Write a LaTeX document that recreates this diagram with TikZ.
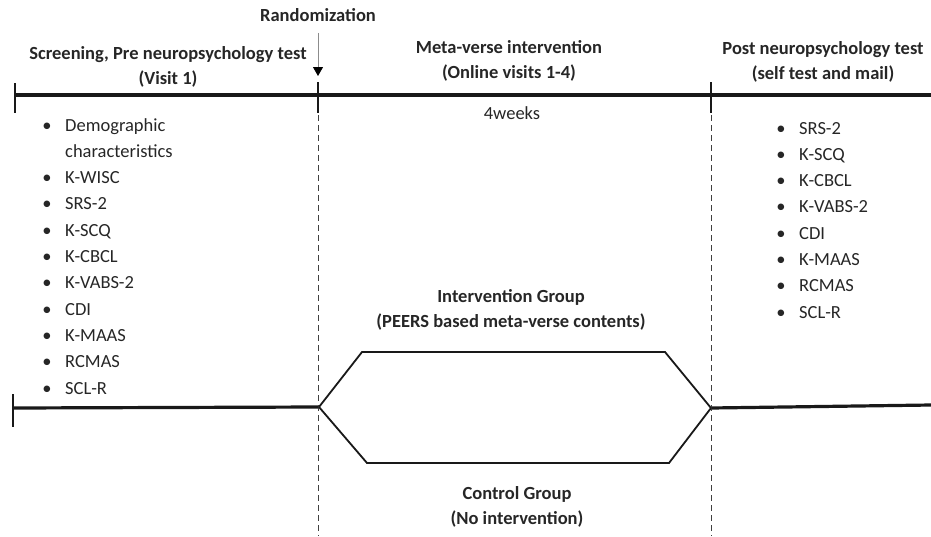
\documentclass[tikz,border=0pt]{standalone}
\usepackage{fontspec}
\setmainfont{Carlito}
\usetikzlibrary{arrows.meta,positioning}

\tikzset{
  lbl/.style={font=\fontsize{18.5}{24.5}\selectfont\bfseries, align=center, inner sep=0pt, text=black!85},
  itm/.style={font=\fontsize{18.5}{26}\selectfont, anchor=base west, inner sep=0pt, text=black!85},
  dot/.style={font=\fontsize{18.5}{26}\selectfont, anchor=base, inner sep=0pt, text=black!85},
  axis/.style={line width=3.2pt, black!90},
  tick/.style={line width=1.4pt, black!90},
  arm/.style={line width=1.8pt, black!90, line join=miter},
  guide/.style={line width=1pt, dash pattern=on 6pt off 4pt, black!75},
}

\begin{document}
\begin{tikzpicture}[x=1pt,y=-1pt]
  \useasboundingbox (0,0) rectangle (931,536);
  % points on the time lines
  \coordinate (t0) at (15,95);
  \coordinate (t1) at (318,95);
  \coordinate (t2) at (711,95);
  \coordinate (t3) at (931,95);
  \coordinate (b0) at (13,408);
  \coordinate (split) at (319,407);
  \coordinate (merge) at (711,408);
  \coordinate (b3) at (931,405);
  \coordinate (ul) at (362,352);
  \coordinate (ur) at (665,352);
  \coordinate (ll) at (367,463);
  \coordinate (lr) at (669,463);
  % time lines
  \draw[axis] (t0) -- (t3);
  \draw[axis] (b0) -- (split);
  \draw[axis] (merge) -- (b3);
  % ticks
  \draw[tick] ([yshift=12pt]t0) -- ([yshift=-18pt]t0);
  \draw[tick] ([yshift=13pt]t1) -- ([yshift=-18pt]t1);
  \draw[tick] ([yshift=13pt]t2) -- ([yshift=-18pt]t2);
  \draw[tick] ([yshift=14pt]b0) -- ([yshift=-19pt]b0);
  % guides
  \draw[guide] ([yshift=-20pt]t1) -- (t1 |- 0,536);
  \draw[guide] ([yshift=-20pt]t2) -- (t2 |- 0,536);
  % groups
  \draw[arm] (split) -- (ul) -- (ur) -- (merge);
  \draw[arm] (split) -- (ll) -- (lr) -- (merge);
  % labels
  \node[lbl] (rand) at (318,15) {Randomization};
  \node[lbl] (pre) at (168,67) {Screening, Pre neuropsychology test\\(Visit 1)};
  \node[lbl] (mid) at (509,61) {Meta-verse intervention\\(Online visits 1-4)};
  \node[lbl] (post) at (823,62) {Post neuropsychology test\\(self test and mail)};
  \node[itm, anchor=base] (dur) at (512,119) {4weeks};
  \node[lbl] (intv) at (511,310) {Intervention Group\\(PEERS based meta-verse contents)};
  \node[lbl] (ctrl) at (517,507) {Control Group\\(No intervention)};
  % arrow
  \draw[black!45, line width=0.8pt, -{Triangle[width=10pt,length=9pt,color=black]}]
    ([yshift=-11pt]rand.south) -- ([yshift=19pt]t1);
  % lists
  \foreach \txt [count=\i from 0] in {Demographic,characteristics,K-WISC,SRS-2,K-SCQ,K-CBCL,K-VABS-2,CDI,K-MAAS,RCMAS,SCL-R}{
    \node[itm] (pre\i) at (65,{131+26.3*\i}) {\txt};
    \ifnum\i=1\else\node[dot] (preb\i) at (47,{131+26.3*\i}) {\textbullet};\fi
  }
  \foreach \txt [count=\i from 0] in {SRS-2,K-SCQ,K-CBCL,K-VABS-2,CDI,K-MAAS,RCMAS,SCL-R}{
    \node[itm] (post\i) at (799,{134+26.3*\i}) {\txt};
    \node[dot] (postb\i) at (781,{134+26.3*\i}) {\textbullet};
  }
\end{tikzpicture}
\end{document}
